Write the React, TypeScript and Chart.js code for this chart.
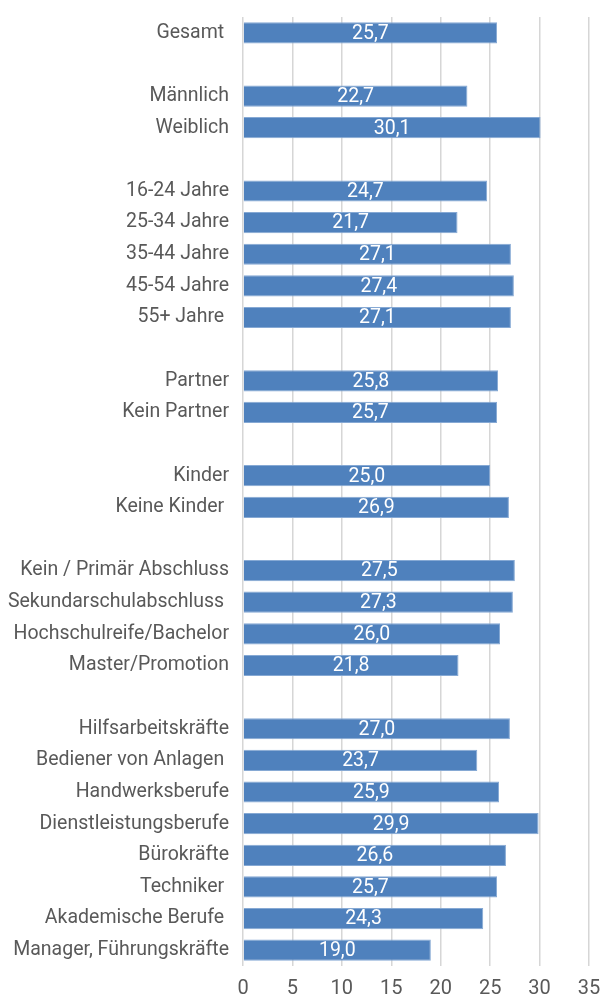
import React, { useEffect, useRef } from "react";
import { Chart, registerables } from "chart.js";

Chart.register(...registerables);

const categories: string[] = [
  "Gesamt ",
  "",
  "Männlich",
  "Weiblich",
  "",
  "16-24 Jahre",
  "25-34 Jahre",
  "35-44 Jahre",
  "45-54 Jahre",
  "55+ Jahre ",
  "",
  "Partner",
  "Kein Partner",
  "",
  "Kinder",
  "Keine Kinder ",
  "",
  "Kein / Primär Abschluss",
  "Sekundarschulabschluss ",
  "Hochschulreife/Bachelor",
  "Master/Promotion",
  "",
  "Hilfsarbeitskräfte",
  "Bediener von Anlagen ",
  "Handwerksberufe",
  "Dienstleistungsberufe",
  "Bürokräfte",
  "Techniker ",
  "Akademische Berufe ",
  "Manager, Führungskräfte",
];

const values: (number | null)[] = [
  25.7,
  null,
  22.7,
  30.1,
  null,
  24.7,
  21.7,
  27.1,
  27.4,
  27.1,
  null,
  25.8,
  25.7,
  null,
  25.0,
  26.9,
  null,
  27.5,
  27.3,
  26.0,
  21.8,
  null,
  27.0,
  23.7,
  25.9,
  29.9,
  26.6,
  25.7,
  24.3,
  19.0,
];

const xTicks: number[] = [0, 5, 10, 15, 20, 25, 30, 35];

const FONT = "Roboto";

const valueLabelPlugin = {
  id: "valueLabels",
  afterDatasetsDraw(chart: any) {
    const ctx = chart.ctx;
    const meta = chart.getDatasetMeta(0);
    ctx.save();
    ctx.fillStyle = "#ffffff";
    ctx.font = `400 19.5px ${FONT}`;
    ctx.textAlign = "center";
    ctx.textBaseline = "middle";
    meta.data.forEach((bar: any, i: number) => {
      const v = values[i];
      if (v === null || v === undefined) return;
      const { x, y, base } = bar.getProps(["x", "y", "base"], true);
      ctx.fillText(v.toFixed(1).replace(".", ","), (x + base) / 2, y + 1);
    });
    ctx.restore();
  },
};

export default function App() {
  const canvasRef = useRef<HTMLCanvasElement>(null);

  useEffect(() => {
    document.body.style.margin = "0";
    const canvas = canvasRef.current;
    if (!canvas) return;
    const chart = new Chart(canvas, {
      type: "bar",
      data: {
        labels: categories,
        datasets: [
          {
            data: values as any,
            backgroundColor: "#4f81bd",
            borderColor: "#86a9d4",
            borderWidth: 1,
            categoryPercentage: 1,
            barPercentage: 0.67,
          },
        ],
      },
      options: {
        indexAxis: "y",
        animation: false,
        responsive: false,
        maintainAspectRatio: false,
        layout: { padding: { top: 17, right: 12, bottom: 0, left: 0 } },
        plugins: {
          legend: { display: false },
          tooltip: { enabled: false },
        },
        scales: {
          x: {
            min: 0,
            max: 35,
            afterBuildTicks(scale: any) {
              scale.ticks = xTicks.map((v) => ({ value: v }));
            },
            afterFit(scale: any) {
              scale.height = 32;
              scale.paddingLeft = 0;
              scale.paddingRight = 0;
            },
            grid: {
              color: "#d6d6d6",
              lineWidth: 1.5,
              drawTicks: false,
            },
            border: { display: false },
            ticks: {
              color: "#595959",
              padding: 11,
              font: { family: FONT, size: 20 },
            },
          },
          y: {
            afterFit(scale: any) {
              scale.width = 243;
              scale.paddingTop = 0;
              scale.paddingBottom = 0;
            },
            grid: { display: false, drawTicks: false },
            border: { display: false },
            ticks: {
              color: "#595959",
              padding: 14,
              autoSkip: false,
              font: { family: FONT, size: 19.5 },
            },
          },
        },
      },
      plugins: [valueLabelPlugin],
    });
    return () => chart.destroy();
  }, []);

  return (
    <div style={{ width: 601, height: 998 }}>
      <canvas ref={canvasRef} width={601} height={998} style={{ width: 601, height: 998, display: "block" }} />
    </div>
  );
}
